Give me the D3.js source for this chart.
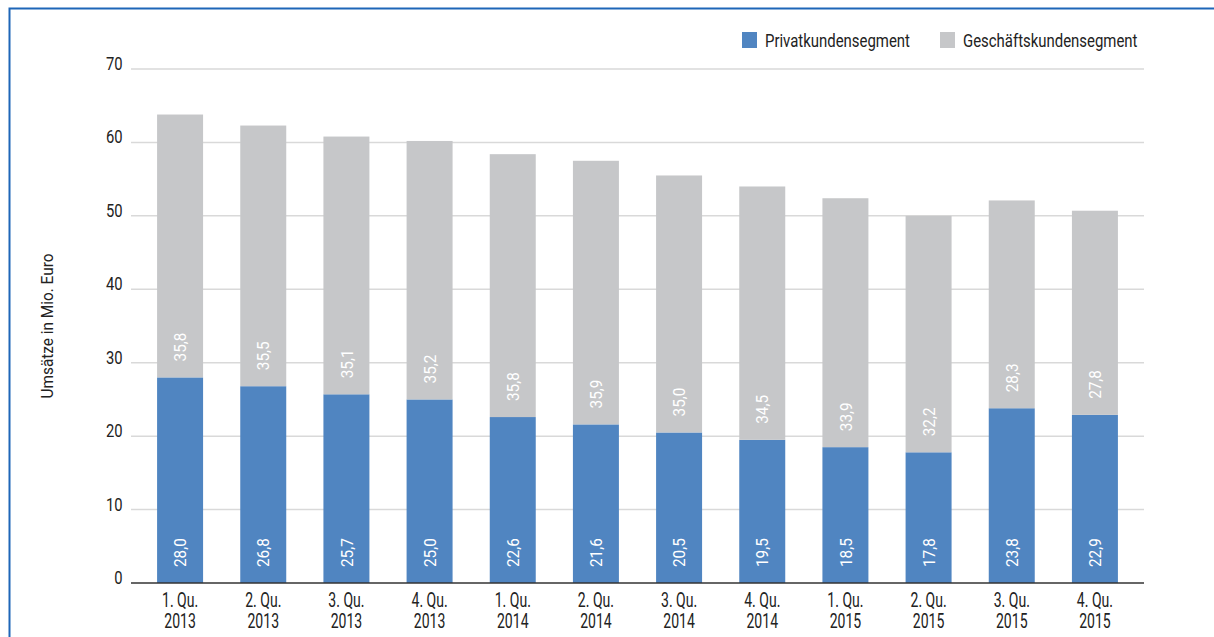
<!DOCTYPE html>
<html><head><meta charset="utf-8">
<script src="https://cdn.jsdelivr.net/npm/d3@7"></script>
<style>
html,body{margin:0;padding:0;background:#fff;}
svg{display:block;}
text{font-family:"Roboto","Liberation Sans",sans-serif;}
</style></head>
<body>
<svg id="chart" width="1214" height="637"></svg>
<script>
const categories = ["1. Qu.|2013","2. Qu.|2013","3. Qu.|2013","4. Qu.|2013","1. Qu.|2014","2. Qu.|2014","3. Qu.|2014","4. Qu.|2014","1. Qu.|2015","2. Qu.|2015","3. Qu.|2015","4. Qu.|2015"];
const privat = [28.0,26.8,25.7,25.0,22.6,21.6,20.5,19.5,18.5,17.8,23.8,22.9];
const geschaeft = [35.8,35.5,35.1,35.2,35.8,35.9,35.0,34.5,33.9,32.2,28.3,27.8];
const seriesNames = ["Privatkundensegment","Geschäftskundensegment"];
const yTicks = [0,10,20,30,40,50,60,70];
const yTitle = "Umsätze in Mio. Euro";

const colors = ["#5085c1","#c6c7c9"];
const svg = d3.select("#chart");

function condense(sel, f){
  sel.each(function(){
    const w = this.getComputedTextLength();
    this.setAttribute("textLength", (w*f).toFixed(2));
    this.setAttribute("lengthAdjust","spacingAndGlyphs");
  });
}

// frame
svg.append("path").attr("d","M9.5,637 V8.5 H1214").attr("fill","none").attr("stroke","#1e66b8").attr("stroke-width",2);

const plotL = 131, plotR = 1144;
const y = d3.scaleLinear().domain([0,70]).range([583,69]);
const x = d3.scaleBand().domain(categories).range([138.5,1136.5]).paddingInner(0.447).paddingOuter(0.2235);

// gridlines
svg.append("g").selectAll("line").data(yTicks.filter(d=>d>0)).join("line")
  .attr("x1",plotL).attr("x2",plotR).attr("y1",d=>y(d)).attr("y2",d=>y(d))
  .attr("stroke","#d9d9d9").attr("stroke-width",1.5);

// y tick labels
const yt = svg.append("g").selectAll("text").data(yTicks).join("text")
  .attr("x",122.5).attr("y",d=>y(d)+1)
  .attr("text-anchor","end").attr("font-size",18).attr("fill","#222")
  .text(d=>d);
condense(yt, 0.82);

const data = categories.map((c,i)=>({cat:c, p:privat[i], g:geschaeft[i]}));
const fmt = v => v.toFixed(1).replace(".",",");

const bars = svg.append("g");
data.forEach(d=>{
  bars.append("rect").attr("x",x(d.cat)).attr("width",x.bandwidth())
    .attr("y",y(d.p)).attr("height",y(0)-y(d.p)).attr("fill",colors[0]);
  bars.append("rect").attr("x",x(d.cat)).attr("width",x.bandwidth())
    .attr("y",y(d.p+d.g)).attr("height",y(d.p)-y(d.p+d.g)).attr("fill",colors[1]);
  const cx = x(d.cat)+x.bandwidth()/2;
  [[0,d.p],[d.p,d.g]].forEach(([base,v])=>{
    const by = y(base)-16;
    const t = bars.append("text").attr("transform",`translate(${cx},${by}) rotate(-90)`)
      .attr("dy","0.36em").attr("text-anchor","start")
      .attr("font-size",17).attr("fill","#fff").text(fmt(v));
    condense(t, 0.9);
  });
});

// axis line
svg.append("line").attr("x1",plotL).attr("x2",plotR).attr("y1",y(0)).attr("y2",y(0))
  .attr("stroke","#333").attr("stroke-width",1.5);

// x labels: one text element per category, two lines, condensed via horizontal scale
const xl = svg.append("g");
categories.forEach(c=>{
  const parts = c.split("|");
  const cx = x(c)+x.bandwidth()/2;
  const t = xl.append("text").attr("transform",`translate(${cx},0) scale(0.72,1)`)
    .attr("text-anchor","middle").attr("font-size",19.5).attr("fill","#222");
  t.append("tspan").attr("x",0).attr("y",607).text(parts[0]);
  t.append("tspan").attr("x",0).attr("y",628).text(parts[1]);
});

// y title
const yTitleEl = svg.append("text").attr("transform",`translate(53,${(y(0)+y(70))/2}) rotate(-90)`)
  .attr("text-anchor","middle").attr("font-size",17).attr("fill","#222").text(yTitle);
{ const w = yTitleEl.node().getComputedTextLength(); condense(yTitleEl, 145/w); }

// legend
const leg = svg.append("g");
const legItems = [{x:742, tx:765},{x:940, tx:963}];
let legF = null;
seriesNames.forEach((n,i)=>{
  leg.append("rect").attr("x",legItems[i].x).attr("y",32).attr("width",15).attr("height",16).attr("fill",colors[i]);
  const t = leg.append("text").attr("x",legItems[i].tx).attr("y",47).attr("font-size",19).attr("fill","#222").text(n);
  if (legF === null) legF = 145 / t.node().getComputedTextLength();
  condense(t, legF);
});
</script>
</body></html>
